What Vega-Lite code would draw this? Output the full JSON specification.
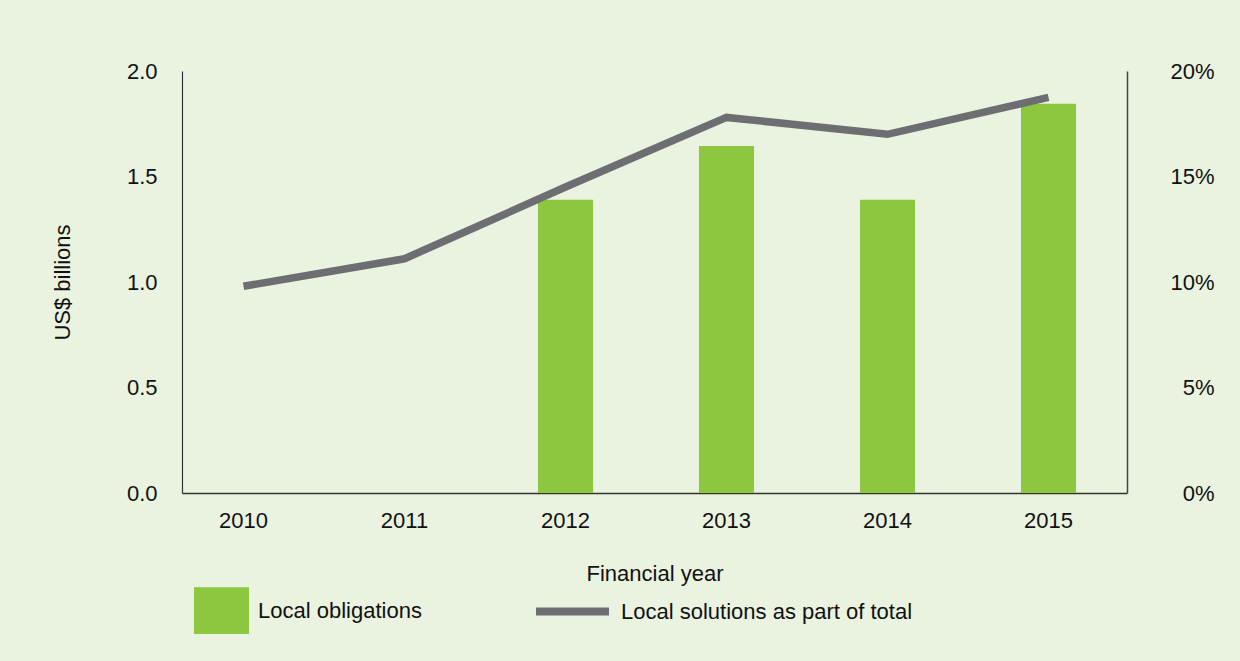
{
  "$schema": "https://vega.github.io/schema/vega-lite/v6.json",
  "autosize": {"type": "none"},
  "width": 945,
  "height": 422,
  "padding": {"left": 182, "top": 71, "right": 113, "bottom": 168},
  "background": "#EAF3E0",
  "config": {
    "view": {"stroke": null},
    "font": "Liberation Sans",
    "axis": {"labelFont": "Liberation Sans", "titleFont": "Liberation Sans", "labelColor": "#111111", "titleColor": "#111111", "labelFontSize": 22, "titleFontSize": 22, "titleFontWeight": "normal", "ticks": false, "grid": false},
    "legend": {"labelFont": "Liberation Sans", "labelFontSize": 22, "labelColor": "#111111", "padding": 0, "labelLimit": 600}
  },
  "data": {
    "values": [
      {"year": "2010", "obligations": null, "share": 0.098},
      {"year": "2011", "obligations": null, "share": 0.111},
      {"year": "2012", "obligations": 1.39, "share": 0.145},
      {"year": "2013", "obligations": 1.645, "share": 0.178},
      {"year": "2014", "obligations": 1.39, "share": 0.170},
      {"year": "2015", "obligations": 1.845, "share": 0.1875}
    ]
  },
  "encoding": {
    "x": {
      "field": "year",
      "type": "ordinal",
      "scale": {"type": "band", "paddingInner": 0.658, "paddingOuter": 0.2638, "align": 0.4},
      "axis": {"title": "Financial year", "labelAngle": 0, "labelPadding": 17, "domainColor": "#333333", "domainWidth": 1.5, "titleY": 80, "titleBaseline": "middle"}
    }
  },
  "layer": [
    {
      "mark": {"type": "bar", "color": "#8DC63F"},
      "encoding": {
        "y": {
          "field": "obligations",
          "type": "quantitative",
          "scale": {"domain": [0, 2], "nice": false},
          "axis": {"title": "US$ billions", "values": [0, 0.5, 1, 1.5, 2], "format": ".1f", "labelPadding": 25, "domainColor": "#333333", "domainWidth": 1.2, "titleX": -120, "titleY": 211, "titleAngle": -90, "titleAlign": "center", "titleBaseline": "middle"}
        },
        "fill": {
          "datum": "Local obligations",
          "scale": {"range": ["#8DC63F"]},
          "legend": {"title": null, "orient": "none", "legendX": 12, "legendY": 512, "symbolType": "M-1,-0.85H1V0.85H-1Z", "symbolSize": 3025, "symbolStrokeWidth": 0, "labelOffset": 9}
        }
      }
    },
    {
      "mark": {"type": "line", "strokeWidth": 7.5, "strokeCap": "butt", "strokeJoin": "miter"},
      "encoding": {
        "y": {
          "field": "share",
          "type": "quantitative",
          "scale": {"domain": [0, 0.2], "nice": false},
          "axis": {"title": null, "orient": "right", "values": [0, 0.05, 0.1, 0.15, 0.2], "format": ".0%", "labelAlign": "right", "labelPadding": 87, "domainColor": "#444444", "domainWidth": 1.5}
        },
        "stroke": {
          "datum": "Local solutions as part of total",
          "scale": {"range": ["#6D6E71"]},
          "legend": {"title": null, "orient": "none", "legendX": 350, "legendY": 500, "symbolType": "stroke", "symbolSize": 5329, "symbolStrokeWidth": 8, "symbolStrokeColor": "#6D6E71", "labelOffset": 8}
        }
      }
    }
  ],
  "resolve": {"scale": {"y": "independent", "fill": "independent", "stroke": "independent"}}
}
